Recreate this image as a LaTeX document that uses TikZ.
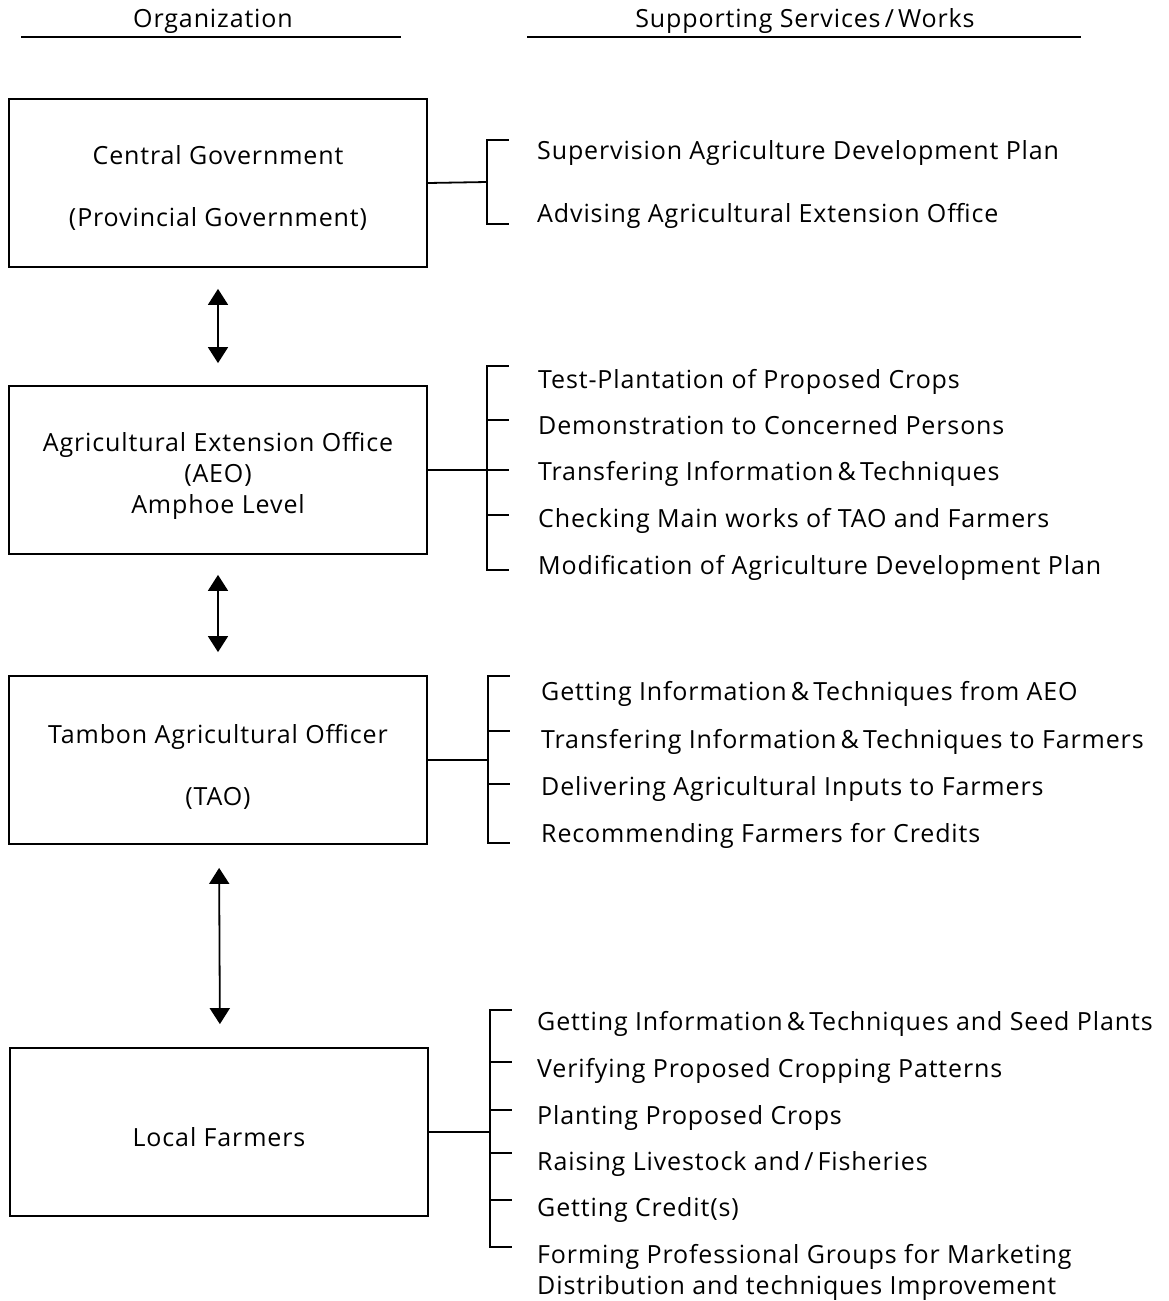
\documentclass[tikz,border=0pt]{standalone}
\usepackage{fontspec}
\setmainfont[LetterSpace=3.5]{Open Sans}
\usetikzlibrary{positioning,arrows.meta,calc}
\newcommand{\svcfont}{\fontsize{25}{31}\selectfont}
\tikzset{
  rule/.style={line width=1.8pt, line cap=rect},
  orgbox/.style={draw, line width=1.8pt, minimum width=418pt, minimum height=168pt, inner sep=0pt},
  boxtext/.style={align=center, inner sep=0pt, font=\svcfont},
  itembase/.style={anchor=west, inner sep=0pt, align=left, font=\svcfont},
  item/.style={itembase, text height=18pt, text depth=0pt},
  head/.style={inner sep=0pt, font=\svcfont},
  updown/.style={line width=1.8pt, {Triangle[width=20pt,length=16pt]}-{Triangle[width=20pt,length=16pt]}}
}
\begin{document}
\begin{tikzpicture}[x=1pt, y=-1pt]
    \useasboundingbox (0,0) rectangle (1169,1301);
    % ---- column heads ----
    \node[head] (orghead) at (213,21) {Organization};
    \node[head] (svchead) at (805,21) {Supporting Services\,/\,Works};
    \draw[rule] (22,37) -- (400,37);
    \draw[rule] (528,37) -- (1080,37);
    % ---- organization boxes ----
    \node[orgbox] (central) at (218,183) {};
    \node[boxtext] (centraltxt) at ([yshift=-5pt]central.center) {Central Government\\[31pt](Provincial Government)};
    \node[orgbox] (aeo) at (218,470) {};
    \node[boxtext] (aeotxt) at ([yshift=-6pt]aeo.center) {Agricultural Extension Office\\(AEO)\\Amphoe Level};
    \node[orgbox] (tao) at (218,760) {};
    \node[boxtext] (taotxt) at ([yshift=-7pt]tao.center) {Tambon Agricultural Officer\\[31pt](TAO)};
    \node[orgbox] (farmers) at (219,1132) {};
    \node[boxtext] (farmerstxt) at ([yshift=-5pt]farmers.center) {Local Farmers};
    \draw[updown, shorten <=21pt, shorten >=22pt] (central.south) -- (aeo.north);
    \draw[updown, shorten <=20pt, shorten >=23pt] (aeo.south) -- (tao.north);
    \draw[updown, shorten <=23pt, shorten >=23pt] ([xshift=1pt]tao.south) -- ([xshift=1pt]farmers.north);
    % ---- central government services ----
    \node[item] (cg1) at (537,150) {Supervision Agriculture Development Plan};
    \node[item] (cg2) at (537,213) {Advising Agricultural Extension Office};
    \coordinate (b1) at (487,182);
    \draw[rule] (central.east) -- (b1);
    \draw[rule] (508,140) -- (487,140) -- (487,224) -- (508,224);
    % ---- AEO services ----
    \node[item] (aeo1) at (538,379) {Test-Plantation of Proposed Crops};
    \node[item] (aeo2) at (538,425) {Demonstration to Concerned Persons};
    \node[item] (aeo3) at (538,471) {Transfering Information\,\&\,Techniques};
    \node[item] (aeo4) at (538,518) {Checking Main works of TAO and Farmers};
    \node[item] (aeo5) at (538,565) {Modification of Agriculture Development Plan};
    \coordinate (b2) at (487,470);
    \draw[rule] (aeo.east) -- (b2);
    \draw[rule] (508,366) -- (487,366) -- (487,570) -- (508,570);
    \foreach \t in {420,470,515}
      \draw[rule] (487,\t) -- (508,\t);
    % ---- TAO services ----
    \node[item] (tao1) at (541,691) {Getting Information\,\&\,Techniques from AEO};
    \node[item] (tao2) at (541,739) {Transfering Information\,\&\,Techniques to Farmers};
    \node[item] (tao3) at (541,786) {Delivering Agricultural Inputs to Farmers};
    \node[item] (tao4) at (541,833) {Recommending Farmers for Credits};
    \coordinate (b3) at (488,760);
    \draw[rule] (tao.east) -- (b3);
    \draw[rule] (509,676) -- (488,676) -- (488,843) -- (509,843);
    \foreach \t in {731,784}
      \draw[rule] (488,\t) -- (509,\t);
    % ---- local farmers services ----
    \node[item] (lf1) at (537,1021) {Getting Information\,\&\,Techniques and Seed Plants};
    \node[item] (lf2) at (537,1068) {Verifying Proposed Cropping Patterns};
    \node[item] (lf3) at (537,1115) {Planting Proposed Crops};
    \node[item] (lf4) at (537,1161) {Raising Livestock and\,/\,Fisheries};
    \node[item] (lf5) at (537,1207) {Getting Credit(s)};
    \node[itembase] (lf6) at (537,1272) {Forming Professional Groups for Marketing\\Distribution and techniques Improvement};
    \coordinate (b4) at (490,1132);
    \draw[rule] (farmers.east) -- (b4);
    \draw[rule] (511,1010) -- (490,1010) -- (490,1247) -- (511,1247);
    \foreach \t in {1062,1110,1153,1200}
      \draw[rule] (490,\t) -- (511,\t);
\end{tikzpicture}
\end{document}
